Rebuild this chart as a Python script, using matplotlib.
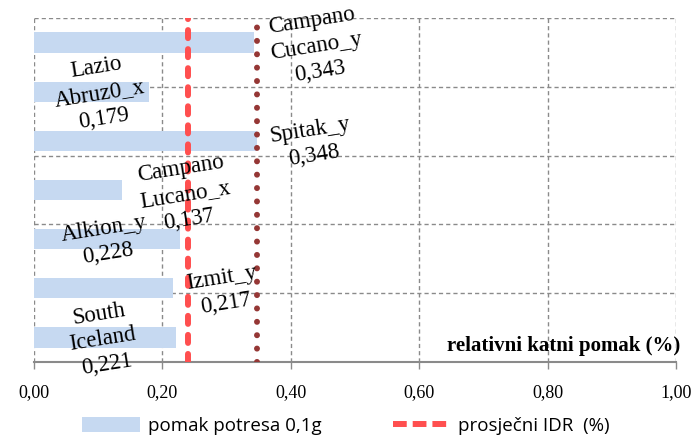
import matplotlib
matplotlib.use("Agg")
import matplotlib.pyplot as plt
import numpy as np
from matplotlib.patches import Patch
from matplotlib.lines import Line2D

# ---- data ----
names = ["Campano\nCucano_y", "Lazio\nAbruz0_x", "Spitak_y", "Campano\nLucano_x",
         "Alkion_y", "Izmit_y", "South\nIceland"]
drift = [0.343, 0.179, 0.348, 0.137, 0.228, 0.217, 0.221]
mean_idr = 0.240
max_idr = 0.347
xticks = [0.0, 0.2, 0.4, 0.6, 0.8, 1.0]
xticklabels = ["0,00", "0,20", "0,40", "0,60", "0,80", "1,00"]
bar_label = "pomak potresa 0,1g"
line_label = "prosječni IDR  (%)"
axis_title = "relativni katni pomak (%)"

# label anchor positions (layout only)
label_pos = [(0.439, 0.08), (0.103, 1.03), (0.433, 2.04), (0.235, 3.09),
             (0.112, 4.04), (0.296, 5.06), (0.107, 6.04)]

W, H = 696, 443
fig = plt.figure(figsize=(W / 100, H / 100), dpi=100)
ax = fig.add_axes([34 / W, 1 - 362 / H, (676 - 34) / W, (362 - 18) / H])

serif = "Liberation Serif"
grid_c = "#8a8a8a"
bar_c = "#c6d9f1"
red_c = "#ff4f4f"
brown_c = "#953735"

y = np.arange(len(drift))
ax.barh(y, drift, height=0.41, color=bar_c, zorder=2)

ax.set_xlim(0, 1.0)
ax.set_ylim(len(drift) - 0.5, -0.5)

# grid
ax.set_xticks(xticks)
ax.set_xticklabels(xticklabels, fontfamily=serif, fontsize=13)
ax.set_yticks([])
ax.set_yticks(np.linspace(-0.5, len(drift) - 0.5, 6), minor=True)
ax.tick_params(axis="y", which="both", length=0)
ax.tick_params(axis="x", length=5, width=1, color=grid_c, pad=11)
ax.grid(True, axis="x", which="major", color=grid_c, linestyle=(0, (3, 2.2)), lw=1, zorder=1)
ax.grid(True, axis="y", which="minor", color=grid_c, linestyle=(0, (3, 2.2)), lw=1, zorder=1)
for s in ["left", "right", "top"]:
    ax.spines[s].set_visible(False)
ax.spines["bottom"].set_color(grid_c)
ax.spines["bottom"].set_linewidth(1.5)
ax.spines["bottom"].set_zorder(3)

# vertical lines
red_ls = (0, (1.35, 1.84))
ax.axvline(mean_idr, color=red_c, lw=4.3, linestyle=red_ls,
           dash_capstyle="round", zorder=4)
ax.axvline(max_idr, color=brown_c, lw=4.3, linestyle=(0, (0.01, 2.23)),
           dash_capstyle="round", zorder=4)

# data labels
for (lx, ly), nm, v in zip(label_pos, names, drift):
    txt = nm + "\n" + f"{v:.3f}".replace(".", ",")
    ax.text(lx, ly, txt, ha="center", va="center", rotation=9,
            rotation_mode="anchor", fontfamily=serif, fontsize=16.5,
            linespacing=1.3, zorder=5, multialignment="center")

# axis title inside
ax.text(1.006, 6.18, axis_title, ha="right", va="center", fontfamily=serif,
        fontsize=15, fontweight="bold", zorder=5)

# legend
handles = [Patch(facecolor=bar_c, edgecolor="none"),
           Line2D([0], [0], color=red_c, lw=4.3, linestyle=(0, (2.3, 1.0)),
                  dash_capstyle="butt")]
fig.legend(handles, [bar_label, line_label], loc="center",
           bbox_to_anchor=(346 / W, 1 - 426 / H), ncol=2, frameon=False,
           prop={"family": "Open Sans", "size": 13.5}, handlelength=3.1,
           handleheight=0.85, handletextpad=0.4, columnspacing=3.8)

fig.savefig("out.png", dpi=100)
